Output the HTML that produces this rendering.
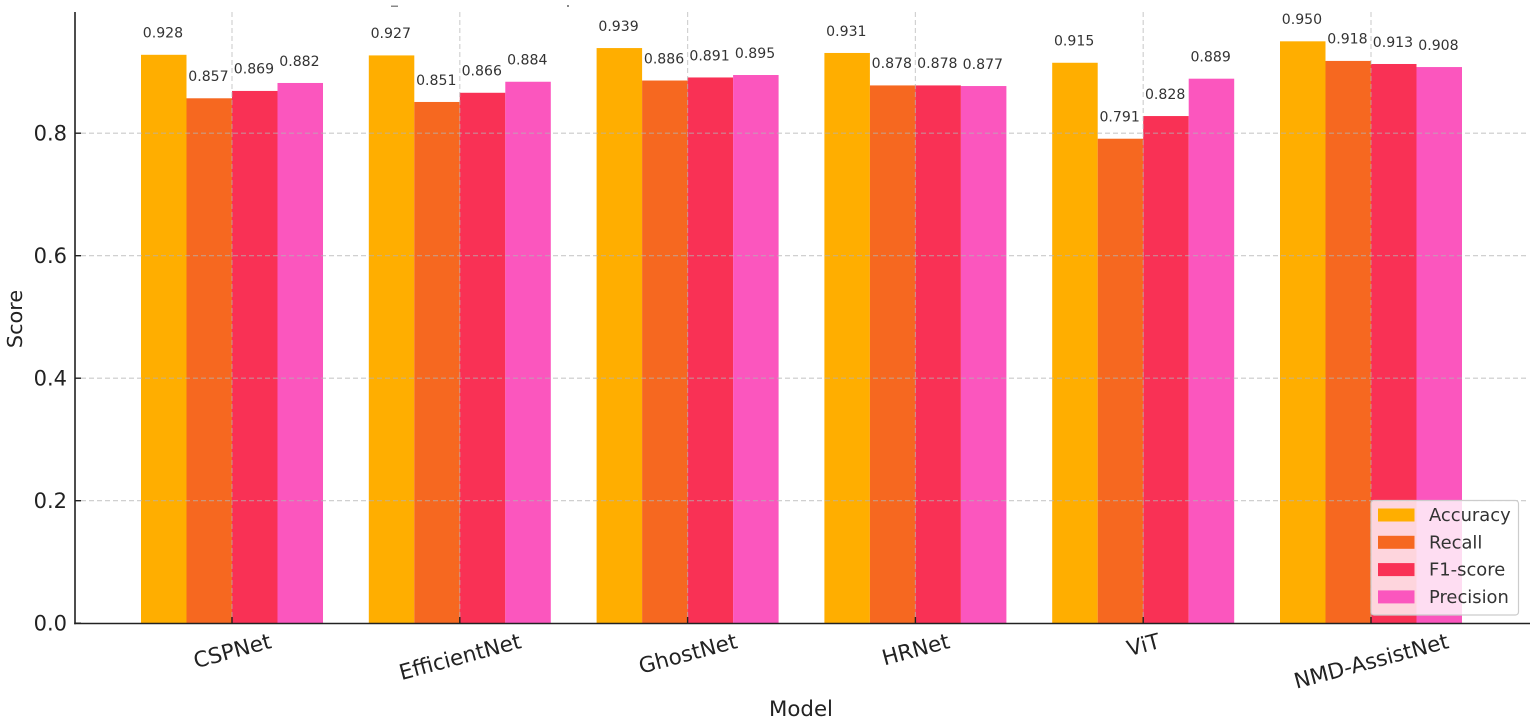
<!DOCTYPE html>
<html lang="en">
<head>
<meta charset="utf-8">
<title>Model comparison</title>
<style>
html,body{margin:0;padding:0;background:#fff;width:1535px;height:723px;overflow:hidden}
svg{display:block;font-family:"DejaVu Sans","Liberation Sans",sans-serif}
</style>
</head>
<body>
<svg id="chart" xmlns="http://www.w3.org/2000/svg" width="1535" height="723" viewBox="0 0 1535 723">
  <rect x="0" y="0" width="1535" height="723" fill="#ffffff"/>
  <g id="bars"></g>
  <g id="grid"></g>
  <g id="labels"></g>
  <g id="axes"></g>
  <g id="legend"></g>
  <text x="801" y="716" font-size="21.3" fill="#222" text-anchor="middle">Model</text>
  <text transform="translate(22 319) rotate(-90)" font-size="20.8" fill="#222" text-anchor="middle">Score</text>
  <rect x="391" y="5.500" width="7" height="1.500" fill="#888"/>
  <rect x="567" y="5" width="2" height="2" fill="#888"/>
</svg>
<script>
const categories = ["CSPNet", "EfficientNet", "GhostNet", "HRNet", "ViT", "NMD-AssistNet"];
const seriesNames = ["Accuracy", "Recall", "F1-score", "Precision"];
const accuracy = [0.928, 0.927, 0.939, 0.931, 0.915, 0.950];
const recall = [0.857, 0.851, 0.886, 0.878, 0.791, 0.918];
const f1Score = [0.869, 0.866, 0.891, 0.878, 0.828, 0.913];
const precision = [0.882, 0.884, 0.895, 0.877, 0.889, 0.908];
const yTicks = [0, 0.2, 0.4, 0.6, 0.8];

const seriesValues = [accuracy, recall, f1Score, precision];
const seriesColors = ["#FFAE00", "#F66820", "#F93155", "#FB56BE"];
const NS = "http://www.w3.org/2000/svg";

function xScale(i) { return 232 + i * 227.8; }
function yScale(v) { return 623.2 - v * 612.5; }
const barWidth = 45.5;

function make(parent, tag, attrs) {
  const el = document.createElementNS(NS, tag);
  for (const k in attrs) el.setAttribute(k, attrs[k]);
  parent.appendChild(el);
  return el;
}

const barsG = document.getElementById("bars");
const gridG = document.getElementById("grid");
const labelsG = document.getElementById("labels");
const axesG = document.getElementById("axes");
const legendG = document.getElementById("legend");

seriesValues.forEach(function (vals, s) {
  vals.forEach(function (v, i) {
    const x = xScale(i) + (s - 2) * barWidth;
    const bar = make(barsG, "rect", { x: x, y: yScale(v), width: barWidth, height: yScale(0) - yScale(v), fill: seriesColors[s] });
    
    
    const t = make(labelsG, "text", { x: x + barWidth / 2 - 0.8, y: yScale(v) - 17.2, "font-size": 14.1, fill: "#333", "text-anchor": "middle" });
    t.textContent = v.toFixed(3);
    
    
  });
});

yTicks.forEach(function (v) {
  if (v > 0) {
    const g = make(gridG, "line", { x1: 81, x2: 1527, y1: yScale(v), y2: yScale(v), stroke: "#b4b4b4", "stroke-opacity": 0.7, "stroke-width": 1.2, "stroke-dasharray": "5 3" });
    
    
  }
  const tick = make(axesG, "line", { x1: 75, x2: 81, y1: yScale(v), y2: yScale(v), stroke: "#222", "stroke-width": 1.4 });
  
  
  const lab = make(axesG, "text", { x: 67, y: yScale(v) + 7.4, "font-size": 21, fill: "#222", "text-anchor": "end" });
  lab.textContent = v.toFixed(1);
  
  
});

categories.forEach(function (c, i) {
  const x = xScale(i);
  const g = make(gridG, "line", { x1: x, x2: x, y1: 12, y2: 617, stroke: "#b4b4b4", "stroke-opacity": 0.6, "stroke-width": 1.2, "stroke-dasharray": "5 3" });
  
  
  const tick = make(axesG, "line", { x1: x, x2: x, y1: 617, y2: 623.5, stroke: "#222", "stroke-width": 1.4 });
  
  
  const lab = make(axesG, "text", { "font-size": 21.5, fill: "#222", "text-anchor": "middle", "dominant-baseline": "central" });
  lab.textContent = c;
  
  
  const w = lab.getComputedTextLength();
  const a = 15 * Math.PI / 180;
  const cy = 631 + (w * Math.sin(a) + 21.5 * Math.cos(a)) / 2;
  lab.setAttribute("transform", "translate(" + (x + 0.5) + " " + cy + ") rotate(-15)");
});

const yAxisLine = make(axesG, "line", { x1: 75, x2: 75, y1: 12, y2: 624.2, stroke: "#222", "stroke-width": 1.6 });


const xAxisLine = make(axesG, "line", { x1: 74.2, x2: 1530, y1: 623.5, y2: 623.5, stroke: "#222", "stroke-width": 1.6 });



const legendBox = make(legendG, "rect", { x: 1371, y: 500.5, width: 147.5, height: 114.5, rx: 3, fill: "#ffffff", "fill-opacity": 0.8, stroke: "#cccccc", "stroke-width": 1.2 });


seriesNames.forEach(function (n, s) {
  const y = 508.5 + s * 27.3;
  const sw = make(legendG, "rect", { x: 1378, y: y, width: 36.5, height: 13, fill: seriesColors[s] });
  
  
  const t = make(legendG, "text", { x: 1429, y: y + 12.6, "font-size": 17.9, fill: "#333" });
  t.textContent = n;
  
  
});
</script>
</body>
</html>
